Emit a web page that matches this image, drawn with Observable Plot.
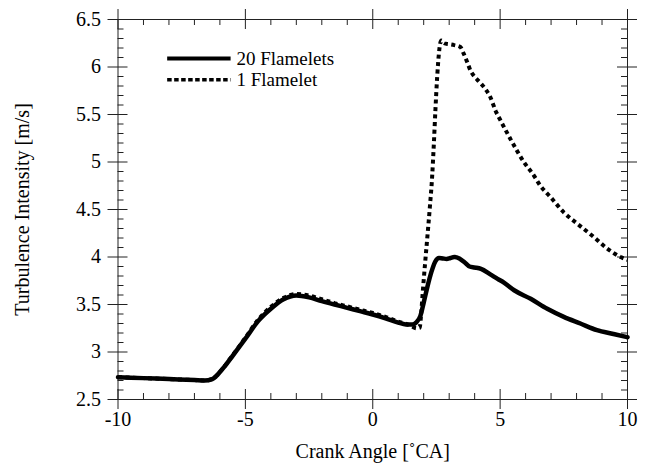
<!DOCTYPE html>
<html><head><meta charset="utf-8">
<script src="https://cdn.jsdelivr.net/npm/d3@7"></script>
<script src="https://cdn.jsdelivr.net/npm/@observablehq/plot@0.6"></script>
<style>html,body{margin:0;padding:0;background:#fff;} svg{display:block}</style>
</head><body><div id="chart"></div>
<script>
// 20 Flamelets (solid)
const solidX = [-10,-9,-8,-7,-6.6,-6.3,-6.15,-6.0,-5.75,-5.5,-5.0,-4.5,-4.0,-3.5,-3.0,-2.5,-2.0,-1.5,-1.0,-0.5,0,0.5,1.0,1.3,1.55,1.7,1.87,2.0,2.14,2.3,2.45,2.6,2.75,2.9,3.05,3.2,3.4,3.6,3.8,4.0,4.25,4.6,4.9,5.15,5.55,6.2,6.85,7.5,8.15,8.8,9.45,10];
const solidY = [2.735,2.725,2.715,2.705,2.70,2.715,2.745,2.79,2.87,2.96,3.14,3.325,3.455,3.555,3.595,3.575,3.535,3.50,3.465,3.43,3.395,3.355,3.31,3.29,3.29,3.31,3.38,3.52,3.68,3.84,3.95,3.99,3.985,3.98,3.99,4.0,3.985,3.945,3.90,3.89,3.875,3.82,3.77,3.73,3.65,3.56,3.455,3.37,3.30,3.23,3.19,3.155];
// 1 Flamelet (dashed)
const dashX = [-10,-9,-8,-7,-6.6,-6.3,-6.0,-5.5,-5.0,-4.5,-4.0,-3.5,-3.0,-2.5,-2.0,-1.5,-1.0,-0.5,0,0.5,1.0,1.4,1.6,1.72,1.84,1.9,1.96,2.05,2.14,2.24,2.33,2.40,2.46,2.53,2.6,2.69,2.8,3.0,3.2,3.44,3.57,3.71,3.84,3.99,4.23,4.47,4.62,4.82,5.01,5.41,5.93,6.32,6.58,6.98,7.5,8.03,8.68,9.2,9.73,10];
const dashY = [2.735,2.725,2.715,2.705,2.70,2.715,2.79,2.965,3.15,3.34,3.475,3.57,3.61,3.595,3.555,3.515,3.48,3.445,3.41,3.37,3.32,3.285,3.26,3.25,3.255,3.40,3.62,3.92,4.20,4.52,4.84,5.20,5.55,5.90,6.15,6.28,6.25,6.24,6.23,6.21,6.14,6.05,5.96,5.90,5.83,5.75,5.68,5.54,5.44,5.24,5.0,4.86,4.75,4.63,4.47,4.35,4.21,4.09,4.0,3.97];

const xMajor = [-10,-5,0,5,10];
const xMinor = [-9,-8,-7,-6,-4,-3,-2,-1,1,2,3,4,6,7,8,9];
const yMajor = [2.5,3,3.5,4,4.5,5,5.5,6,6.5];
const yMinor = d3.range(26,65).filter(v => v % 5 !== 0).map(v => v / 10);

const seriesNames = ["20 Flamelets", "1 Flamelet"];
// legend placement (data units inside the frame)
const legendX1 = -8.07, legendX2 = -5.58, legendTextX = -5.35;
const legendYs = [6.09, 5.865];

const W = 655, H = 468, mL = 117.5, mR = 28, mT = 19, mB = 69;
const fw = W - mL - mR, fh = H - mT - mB;
const MAJ = 10, MIN = 6;

const font = "'Liberation Serif','Times New Roman',Times,serif";
const solid = solidX.map((x, i) => ({x, y: solidY[i]}));
const dash = dashX.map((x, i) => ({x, y: dashY[i]}));
const legendSolid = [{x: legendX1, y: legendYs[0]}, {x: legendX2, y: legendYs[0]}];
const legendDash = [{x: legendX1, y: legendYs[1]}, {x: legendX2, y: legendYs[1]}];
const legendText = seriesNames.map((t, i) => ({x: legendTextX, y: legendYs[i], t}));

const fmt = d => String(d);
const ts = "#222";

const chart = Plot.plot({
  width: W, height: H,
  marginLeft: mL, marginRight: mR, marginTop: mT, marginBottom: mB,
  style: {fontFamily: font, fontSize: "20px", color: "black", background: "white"},
  x: {domain: [-10, 10], axis: null},
  y: {domain: [2.5, 6.5], axis: null},
  marks: [
    // bottom ticks
    Plot.ruleX(xMajor, {x: d => d, insetTop: fh - MAJ, insetBottom: -MAJ, stroke: ts}),
    Plot.ruleX(xMinor, {x: d => d, insetTop: fh - MIN, stroke: ts}),
    // top ticks
    Plot.ruleX(xMajor, {x: d => d, insetTop: -MAJ, insetBottom: fh - MAJ, stroke: ts}),
    Plot.ruleX(xMinor, {x: d => d, insetBottom: fh - MIN, stroke: ts}),
    // left ticks
    Plot.ruleY(yMajor, {y: d => d, insetLeft: -MAJ, insetRight: fw - MAJ, stroke: ts}),
    Plot.ruleY(yMinor, {y: d => d, insetRight: fw - MIN, stroke: ts}),
    // right ticks
    Plot.ruleY(yMajor, {y: d => d, insetLeft: fw - MAJ, insetRight: -MAJ, stroke: ts}),
    Plot.ruleY(yMinor, {y: d => d, insetLeft: fw - MIN, stroke: ts}),
    Plot.frame({stroke: ts}),
    // tick labels
    Plot.text(xMajor, {x: d => d, frameAnchor: "bottom", dy: 26, text: fmt, fontSize: 20, fill: "black"}),
    Plot.text(yMajor, {y: d => d, frameAnchor: "left", dx: -17, textAnchor: "end", text: fmt, fontSize: 20, fill: "black"}),
    // data
    Plot.line(dash, {x: "x", y: "y", stroke: "black", strokeWidth: 4, strokeDasharray: "4,3.5", strokeLinecap: "butt", strokeLinejoin: "miter", curve: "monotone-x"}),
    Plot.line(solid, {x: "x", y: "y", stroke: "black", strokeWidth: 4.5, curve: "monotone-x"}),
    // legend
    Plot.line(legendSolid, {x: "x", y: "y", stroke: "black", strokeWidth: 4, strokeLinecap: "butt"}),
    Plot.line(legendDash, {x: "x", y: "y", stroke: "black", strokeWidth: 3.5, strokeDasharray: "4.5,2.5", strokeLinecap: "butt"}),
    Plot.text(legendText, {x: "x", y: "y", text: "t", textAnchor: "start", fontSize: 19, fill: "black"}),
    // titles
    Plot.text(["Crank Angle [˚CA]"], {frameAnchor: "bottom", dy: 58, textAnchor: "middle", fontSize: 20, fill: "black"}),
    Plot.text(["Turbulence Intensity [m/s]"], {frameAnchor: "left", dx: -95, textAnchor: "middle", rotate: -90, fontSize: 20, fill: "black"})
  ]
});
document.getElementById("chart").appendChild(chart);
</script>
</body></html>
